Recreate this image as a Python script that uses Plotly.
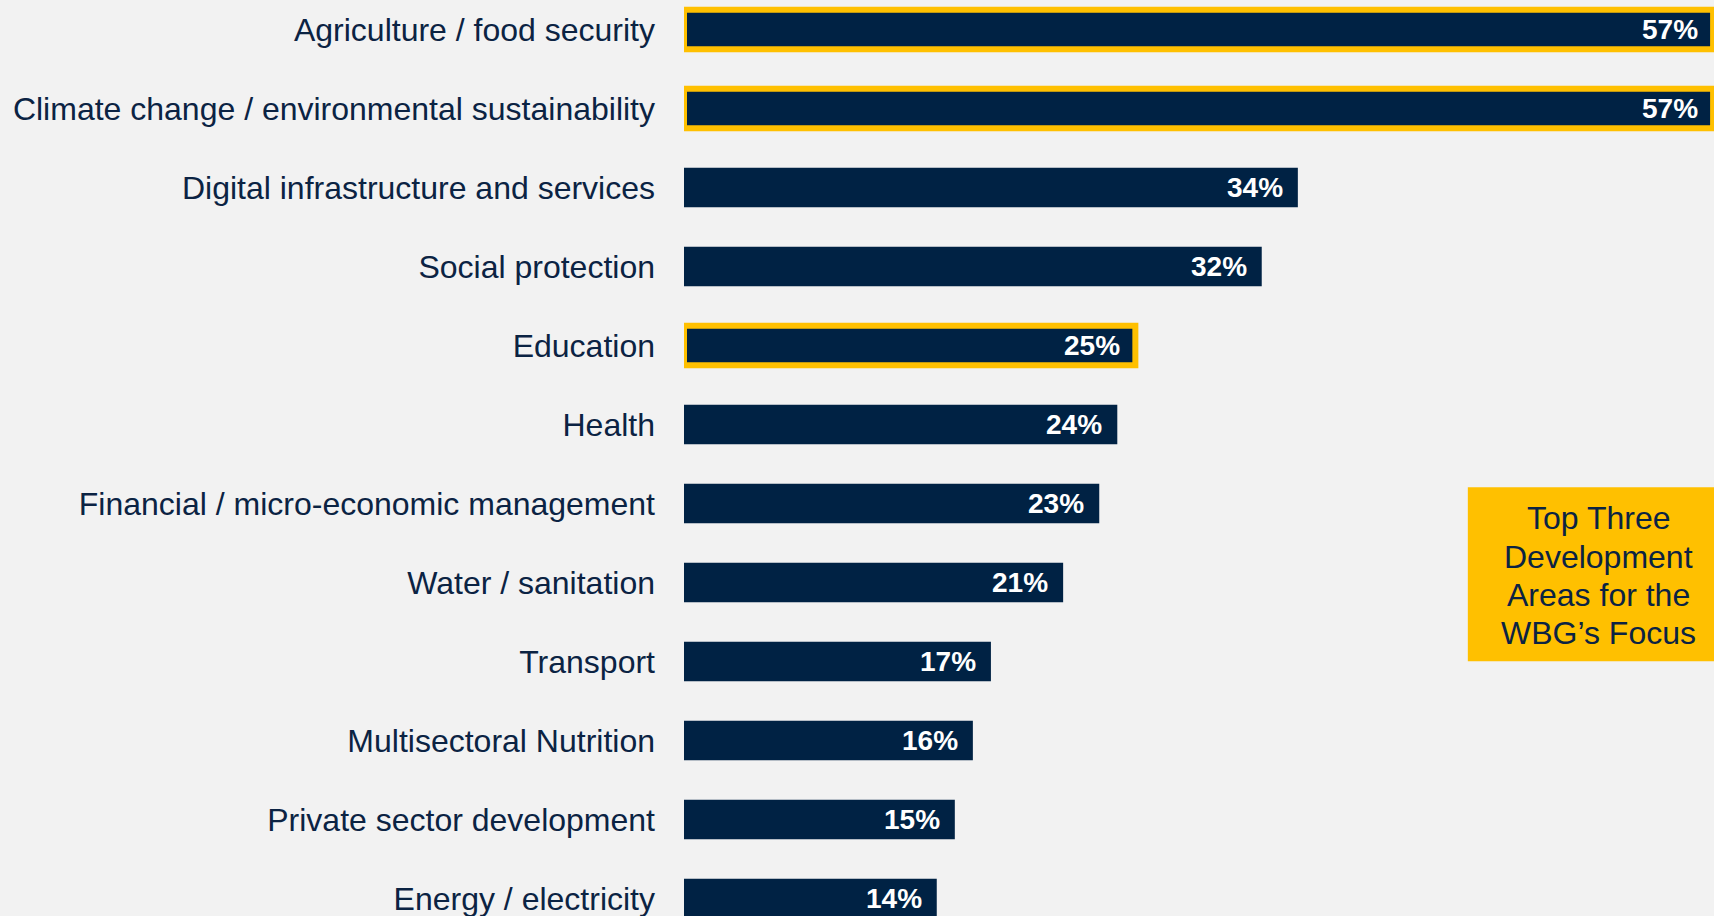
import plotly.graph_objects as go

# Survey shares by development area (percent of respondents)
areas = [
    "Agriculture / food security",
    "Climate change / environmental sustainability",
    "Digital infrastructure and services",
    "Social protection",
    "Education",
    "Health",
    "Financial / micro-economic management",
    "Water / sanitation",
    "Transport",
    "Multisectoral Nutrition",
    "Private sector development",
    "Energy / electricity",
]
shares = [57, 57, 34, 32, 25, 24, 23, 21, 17, 16, 15, 14]
top_three = [True, True, False, False, True, False, False, False, False, False, False, False]
callout_lines = ["Top Three", "Development", "Areas for the", "WBG’s Focus"]

NAVY = "#002244"
GOLD = "#FFC000"
BG = "#F2F2F2"
LABEL_NAVY = "#0B2343"
FIG_H = 916

fig = go.Figure()
fig.add_trace(go.Bar(
    x=shares,
    y=areas,
    orientation="h",
    width=0.5,
    marker=dict(
        color=NAVY,
        line=dict(
            color=[GOLD if t else NAVY for t in top_three],
            width=[6 if t else 0 for t in top_three],
        ),
    ),
    hoverinfo="skip",
))

# value labels at the inside end of each bar
for a, v in zip(areas, shares):
    fig.add_annotation(
        x=v, y=a, xref="x", yref="y",
        text=f"<b>{v}%</b>",
        showarrow=False, xanchor="right", yanchor="middle",
        xshift=-13,
        font=dict(family="Liberation Sans, Arial", size=28, color="white"),
    )

# callout box
fig.add_shape(
    type="rect", xref="paper", yref="paper",
    x0=0.761, x1=1.02, y0=0.278, y1=0.468,
    fillcolor=GOLD, line=dict(width=0), layer="above",
)
line_px = [518, 556.5, 594.6, 633]
for txt, py in zip(callout_lines, line_px):
    fig.add_annotation(
        x=0.888, y=1 - py / FIG_H, xref="paper", yref="paper",
        text=txt, showarrow=False,
        xanchor="center", yanchor="middle", align="center",
        font=dict(family="Liberation Sans, Arial", size=32, color=LABEL_NAVY),
    )

fig.update_layout(
    width=1714, height=FIG_H,
    margin=dict(l=684, r=0, t=0, b=0),
    paper_bgcolor=BG, plot_bgcolor=BG,
    showlegend=False,
    xaxis=dict(range=[0, 57.05], visible=False, fixedrange=True),
    yaxis=dict(
        type="category",
        categoryorder="array", categoryarray=areas,
        range=[11.222, -0.373],
        showgrid=False, zeroline=False, showline=False,
        ticks="", ticklabelstandoff=28,
        tickfont=dict(family="Liberation Sans, Arial", size=32, color=LABEL_NAVY),
        fixedrange=True,
    ),
)

fig.write_html("out.html", config=dict(displayModeBar=False))
